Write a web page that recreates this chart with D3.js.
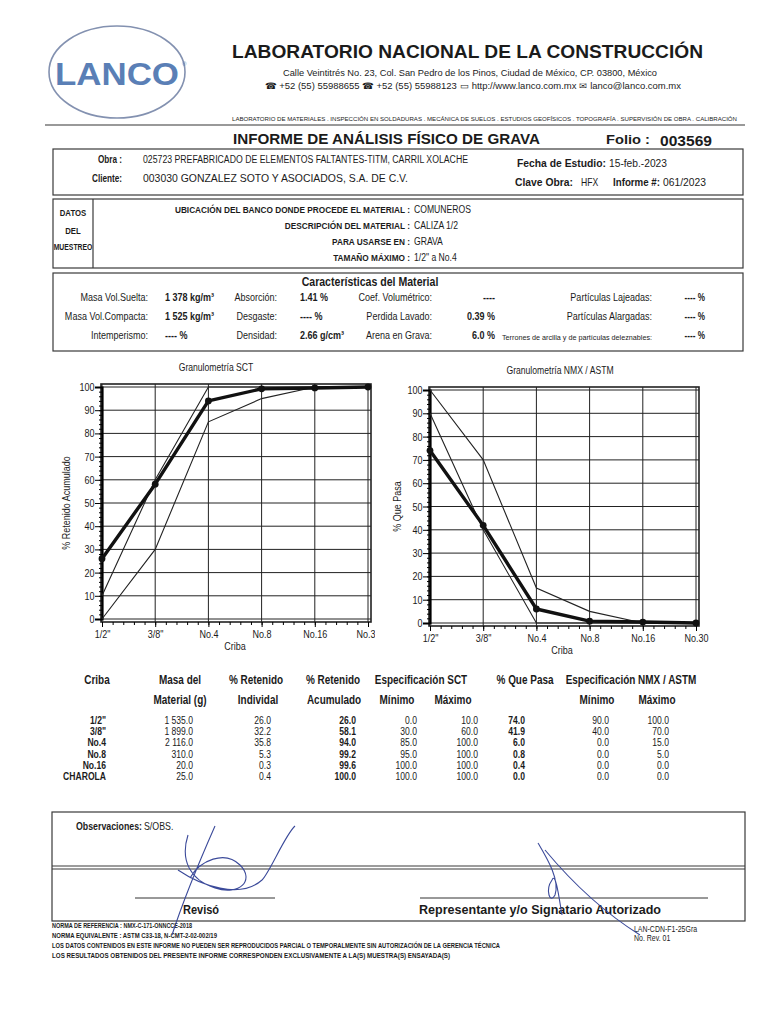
<!DOCTYPE html>
<html><head><meta charset="utf-8">
<script src="https://cdn.jsdelivr.net/npm/d3@7"></script>
<style>
body{margin:0;background:#fff;}
svg{display:block;}
text{font-family:"Liberation Sans",Arial,sans-serif;fill:#1b1b1b;}
</style></head><body>
<svg id="page" width="768" height="1024"></svg>
<script>
// ---------- DATA ----------
const cribaEje = ['1/2"', '3/8"', 'No.4', 'No.8', 'No.16', 'No.30'];
const cribaTabla = ['1/2"', '3/8"', 'No.4', 'No.8', 'No.16', 'CHAROLA'];
const masaMaterial = [1535.0, 1899.0, 2116.0, 310.0, 20.0, 25.0];
const retenidoIndividual = [26.0, 32.2, 35.8, 5.3, 0.3, 0.4];
const retenidoAcumulado = [26.0, 58.1, 94.0, 99.2, 99.6, 100.0];
const sctMinimo = [0.0, 30.0, 85.0, 95.0, 100.0, 100.0];
const sctMaximo = [10.0, 60.0, 100.0, 100.0, 100.0, 100.0];
const quePasa = [74.0, 41.9, 6.0, 0.8, 0.4, 0.0];
const nmxMinimo = [90.0, 40.0, 0.0, 0.0, 0.0, 0.0];
const nmxMaximo = [100.0, 70.0, 15.0, 5.0, 0.0, 0.0];
const yTicks = [0, 10, 20, 30, 40, 50, 60, 70, 80, 90, 100];

const svg = d3.select('#page');
const K = 0.82; // horizontal condensing for narrow type

function t(x, y, s, o = {}) {
  const el = svg.append('text').text(s)
    .attr('font-size', o.size || 10)
    .attr('font-weight', o.bold ? 'bold' : 'normal')
    .attr('text-anchor', o.anchor || 'start');
  if (o.fill) el.style('fill', o.fill);
  if (o.len) {
    el.attr('x', x).attr('y', y).attr('textLength', o.len).attr('lengthAdjust', 'spacingAndGlyphs');
  } else if (o.narrow) {
    el.attr('x', 0).attr('y', 0).attr('transform', `translate(${x},${y}) scale(${o.k || K},1)`);
  } else {
    el.attr('x', x).attr('y', y);
  }
  return el;
}
function hline(x1, x2, y, w = 1, c = '#333') {
  svg.append('line').attr('x1', x1).attr('x2', x2).attr('y1', y).attr('y2', y)
    .attr('stroke', c).attr('stroke-width', w);
}
function vline(x, y1, y2, w = 1, c = '#333') {
  svg.append('line').attr('x1', x).attr('x2', x).attr('y1', y1).attr('y2', y2)
    .attr('stroke', c).attr('stroke-width', w);
}
function box(x, y, w, h, sw = 1.2) {
  svg.append('rect').attr('x', x).attr('y', y).attr('width', w).attr('height', h)
    .attr('fill', 'none').attr('stroke', '#3a3a3a').attr('stroke-width', sw);
}

// ---------- HEADER ----------
svg.append('ellipse').attr('cx', 117).attr('cy', 72).attr('rx', 68).attr('ry', 46)
  .attr('fill', 'none').attr('stroke', '#8391b0').attr('stroke-width', 1.6);
t(117, 85, 'LANCO', {size: 32, bold: true, anchor: 'middle', fill: '#5a7fb6', len: 124});
t(182, 66, '®', {size: 6, fill: '#5a7fb6'});

t(232, 58, 'LABORATORIO NACIONAL DE LA CONSTRUCCIÓN', {size: 18, bold: true, len: 471});
t(283, 76, 'Calle Veintitrés No. 23, Col. San Pedro de los Pinos, Ciudad de México, CP. 03800, México', {size: 9, len: 374});
t(265, 89, '☎ +52 (55) 55988655    ☎ +52 (55) 55988123    ▭ http://www.lanco.com.mx    ✉ lanco@lanco.com.mx', {size: 9, len: 416});
t(232, 121, 'LABORATORIO DE MATERIALES . INSPECCIÓN EN SOLDADURAS . MECÁNICA DE SUELOS . ESTUDIOS GEOFÍSICOS . TOPOGRAFÍA . SUPERVISIÓN DE OBRA . CALIBRACIÓN', {size: 6, len: 505});
hline(45, 745, 125, 1.5, '#777');

t(233, 144, 'INFORME DE ANÁLISIS FÍSICO DE GRAVA', {size: 15.5, bold: true, len: 307});
t(606, 144, 'Folio :', {size: 12, bold: true, len: 44});
t(660, 146, '003569', {size: 15.5, bold: true, len: 52});

// Box 1
box(53, 149, 690, 46);
t(122, 163, 'Obra :', {size: 10, bold: true, narrow: true, anchor: 'end'});
t(143, 163, '025723  PREFABRICADO DE ELEMENTOS FALTANTES-TITM, CARRIL XOLACHE', {size: 10, len: 325});
t(122, 182, 'Cliente:', {size: 10, bold: true, narrow: true, anchor: 'end'});
t(143, 182, '003030  GONZALEZ SOTO Y ASOCIADOS, S.A. DE C.V.', {size: 10.5, len: 265});
t(517, 167, 'Fecha de Estudio:', {size: 10.5, bold: true, len: 89});
t(609, 167, '15-feb.-2023', {size: 10.5, len: 58});
t(515, 186, 'Clave Obra:', {size: 10.5, bold: true, len: 58});
t(581, 186, 'HFX', {size: 10.5, narrow: true});
t(613, 186, 'Informe #:', {size: 10.5, bold: true, len: 47});
t(663, 186, '061/2023', {size: 10.5, len: 43});

// Box 2
box(53, 199, 690, 69);
vline(93, 199, 268, 1.2, '#3a3a3a');
t(73, 216, 'DATOS', {size: 9.5, bold: true, narrow: true, anchor: 'middle'});
t(73, 234, 'DEL', {size: 9.5, bold: true, narrow: true, anchor: 'middle'});
t(73, 250, 'MUESTREO', {size: 9.5, bold: true, narrow: true, anchor: 'middle', k: 0.72});
const muestreoLbl = ['UBICACIÓN DEL BANCO DONDE PROCEDE EL MATERIAL :', 'DESCRIPCIÓN DEL MATERIAL :', 'PARA USARSE EN :', 'TAMAÑO MÁXIMO :'];
const muestreoVal = ['COMUNEROS', 'CALIZA 1/2', 'GRAVA', '1/2" a No.4'];
muestreoLbl.forEach((s, i) => {
  t(410, 213 + i * 16, s, {size: 9.5, bold: true, narrow: true, anchor: 'end', k: 0.87});
  t(414, 213 + i * 16, muestreoVal[i], {size: 10.5, narrow: true});
});

// Box 3
box(53, 273, 690, 78);
t(370, 286, 'Características del Material', {size: 12, bold: true, narrow: true, anchor: 'middle', k: 0.88});
const rowsY = [301, 320, 339];
const c1 = ['Masa Vol.Suelta:', 'Masa Vol.Compacta:', 'Intemperismo:'];
const v1 = ['1 378 kg/m³', '1 525 kg/m³', '---- %'];
const c2 = ['Absorción:', 'Desgaste:', 'Densidad:'];
const v2 = ['1.41 %', '---- %', '2.66 g/cm³'];
const c3 = ['Coef. Volumétrico:', 'Perdida Lavado:', 'Arena en Grava:'];
const v3 = ['----', '0.39 %', '6.0 %'];
const c4 = ['Partículas Lajeadas:', 'Partículas Alargadas:', ''];
const v4 = ['---- %', '---- %', '---- %'];
rowsY.forEach((y, i) => {
  t(148, y, c1[i], {size: 11, narrow: true, anchor: 'end'});
  t(165, y, v1[i], {size: 11, bold: true, narrow: true});
  t(277, y, c2[i], {size: 11, narrow: true, anchor: 'end'});
  t(300, y, v2[i], {size: 11, bold: true, narrow: true});
  t(432, y, c3[i], {size: 11, narrow: true, anchor: 'end'});
  t(495, y, v3[i], {size: 11, bold: true, narrow: true, anchor: 'end'});
  if (c4[i]) t(652, y, c4[i], {size: 11, narrow: true, anchor: 'end'});
  t(705, y, v4[i], {size: 10, bold: true, narrow: true, anchor: 'end'});
});
t(502, 340, 'Terrones de arcilla y de partículas deleznables:', {size: 6.5, len: 150});

// ---------- CHARTS ----------
function chart(o) {
  const g = svg.append('g');
  const x = d3.scalePoint().domain(cribaEje).range([o.x0, o.x1]).padding(0);
  const xm = d3.scaleLinear().domain([0, cribaEje.length - 1]).range([o.x0, o.x1]);
  const y = d3.scaleLinear().domain([0, 100]).range([o.yb, o.yt]);
  const fx0 = o.x0 - 1, fx1 = o.x1 + 3, fy0 = o.yt - 3, fy1 = o.yb + 3;
  // grid
  g.selectAll('.hg').data(yTicks).join('line')
    .attr('x1', fx0).attr('x2', fx1).attr('y1', d => y(d)).attr('y2', d => y(d))
    .attr('stroke', '#222').attr('stroke-width', 1);
  g.selectAll('.vg').data(cribaEje).join('line')
    .attr('x1', d => x(d)).attr('x2', d => x(d)).attr('y1', fy0).attr('y2', fy1)
    .attr('stroke', '#222').attr('stroke-width', 1);
  g.append('rect').attr('x', fx0).attr('y', fy0).attr('width', fx1 - fx0).attr('height', fy1 - fy0)
    .attr('fill', 'none').attr('stroke', '#222').attr('stroke-width', 1.6);
  // y axis
  const ya = g.append('g').attr('transform', `translate(${o.x0},0)`)
    .call(d3.axisLeft(y).tickValues(yTicks).tickSize(7).tickPadding(2));
  ya.select('.domain').attr('stroke-width', 2.2);
  ya.selectAll('text').attr('font-size', 11).attr('transform', `scale(${K},1)`).style('fill', '#1b1b1b');
  g.append('g').attr('transform', `translate(${o.x0},0)`)
    .call(d3.axisLeft(y).tickValues(d3.range(0, 101, 2)).tickSize(3).tickFormat(''))
    .select('.domain').remove();
  // x axis
  const xa = g.append('g').attr('transform', `translate(0,${fy1})`)
    .call(d3.axisBottom(x).tickSize(5).tickPadding(3).tickSizeOuter(0));
  xa.select('.domain').remove();
  xa.selectAll('text').attr('font-size', 11).attr('transform', `scale(${K},1)`).style('fill', '#1b1b1b');
  if (o.clipX) {
    const id = 'clip' + Math.round(o.x0);
    svg.append('clipPath').attr('id', id).append('rect').attr('x', 0).attr('y', 0).attr('width', o.clipX).attr('height', 1024);
    xa.attr('clip-path', `url(#${id})`);
  }
  g.append('g').attr('transform', `translate(0,${fy1})`)
    .call(d3.axisBottom(xm).tickValues(d3.range(0, 5.01, 0.2)).tickSize(3).tickFormat(''))
    .select('.domain').remove();
  // spec lines
  const line = d3.line().x((d, i) => x(cribaEje[i])).y(d => y(d));
  [o.min, o.max].forEach(s => g.append('path').datum(s).attr('d', line)
    .attr('fill', 'none').attr('stroke', '#222').attr('stroke-width', 1.1));
  g.append('path').datum(o.main).attr('d', line)
    .attr('fill', 'none').attr('stroke', '#111').attr('stroke-width', 3.4).attr('stroke-linejoin', 'round');
  g.selectAll('.pt').data(o.main).join('circle')
    .attr('cx', (d, i) => x(cribaEje[i])).attr('cy', d => y(d)).attr('r', 3.4).attr('fill', '#111');
  // labels
  t((o.x0 + o.x1) / 2 + o.titleDx, o.yt - 16, o.title, {size: 10.5, narrow: true, anchor: 'middle'});
  t((o.x0 + o.x1) / 2 + o.critDx, fy1 + 28, 'Criba', {size: 11, narrow: true, anchor: 'middle'});
  svg.append('text').text(o.ylabel).attr('font-size', 11).attr('text-anchor', 'middle')
    .attr('transform', `translate(${o.ylx},${(o.yt + o.yb) / 2}) rotate(-90) scale(${K},1)`);
}
chart({x0: 102, x1: 368, yt: 387, yb: 619, title: 'Granulometría SCT', titleDx: -19, critDx: 0,
  ylabel: '% Retenido Acumulado', ylx: 70, main: retenidoAcumulado, min: sctMinimo, max: sctMaximo, clipX: 375});
chart({x0: 430, x1: 696, yt: 390, yb: 623, title: 'Granulometría NMX / ASTM', titleDx: -3, critDx: -1,
  ylabel: '% Que Pasa', ylx: 401, main: quePasa, min: nmxMinimo, max: nmxMaximo});

// ---------- TABLE ----------
const hdr1 = [['Criba', 97], ['Masa del', 180], ['% Retenido', 256], ['% Retenido', 333], ['Especificación SCT', 421], ['% Que Pasa', 525], ['Especificación NMX / ASTM', 631]];
const hdr2 = [['Material (g)', 180], ['Individal', 258], ['Acumulado', 334], ['Mínimo', 397], ['Máximo', 453], ['Mínimo', 597], ['Máximo', 657]];
hdr1.forEach(([s, x]) => t(x, 684, s, {size: 12, bold: true, narrow: true, anchor: 'middle', k: 0.83}));
hdr2.forEach(([s, x]) => t(x, 704, s, {size: 12, bold: true, narrow: true, anchor: 'middle', k: 0.83}));
const f1 = d3.format(',.1f');
const fmtMasa = v => f1(v).replace(',', ' ');
const cols = [
  [cribaTabla, 106, true, s => s],
  [masaMaterial, 193, false, fmtMasa],
  [retenidoIndividual, 271, false, d3.format('.1f')],
  [retenidoAcumulado, 356, true, d3.format('.1f')],
  [sctMinimo, 417, false, d3.format('.1f')],
  [sctMaximo, 478, false, d3.format('.1f')],
  [quePasa, 525, true, d3.format('.1f')],
  [nmxMinimo, 609, false, d3.format('.1f')],
  [nmxMaximo, 669, false, d3.format('.1f')]
];
cols.forEach(([arr, xr, bold, f]) => {
  arr.forEach((v, i) => t(xr, 724 + i * 11.2, f(v), {size: 11, bold, narrow: true, anchor: 'end', k: 0.78}));
});

// ---------- FOOTER ----------
box(52, 812, 693, 109);
hline(52, 745, 866, 1.2, '#3a3a3a');
hline(52, 745, 869, 1.2, '#3a3a3a');
t(76, 830, 'Observaciones:', {size: 11, bold: true, narrow: true, k: 0.8});
t(144, 830, 'S/OBS.', {size: 11, narrow: true, k: 0.8});
hline(135, 275, 898, 1, '#333');
hline(420, 708, 898, 1, '#333');
t(201, 914, 'Revisó', {size: 13, bold: true, narrow: true, anchor: 'middle', k: 0.85});
t(540, 914, 'Representante y/o Signatario Autorizado', {size: 13, bold: true, anchor: 'middle', len: 242});
const notas = ['NORMA DE REFERENCIA : NMX-C-171-ONNCCE-2018', 'NORMA EQUIVALENTE : ASTM C33-18, N-CMT-2-02-002/19',
  'LOS DATOS CONTENIDOS EN ESTE INFORME NO PUEDEN SER REPRODUCIDOS PARCIAL O TEMPORALMENTE SIN AUTORIZACIÓN DE LA GERENCIA TÉCNICA',
  'LOS RESULTADOS OBTENIDOS DEL PRESENTE INFORME CORRESPONDEN EXCLUSIVAMENTE A LA(S) MUESTRA(S) ENSAYADA(S)'];
const notasLen = [140, 165, 448, 398];
notas.forEach((s, i) => t(52, 928 + i * 10, s, {size: 6.5, bold: true, len: notasLen[i]}));
t(634, 932, 'LAN-CDN-F1-25Gra', {size: 8.5, narrow: true});
t(634, 941, 'No. Rev. 01', {size: 8.5, narrow: true});

// signatures (ink decoration)
svg.append('path').attr('d', 'M215,826 C200,860 185,895 172,935 M188,835 C180,860 190,880 215,888 C240,896 255,880 240,865 C225,850 200,860 190,878 M178,870 C200,885 240,900 262,880 C270,872 285,835 295,826')
  .attr('fill', 'none').attr('stroke', '#3b4a9a').attr('stroke-width', 1.1);
svg.append('path').attr('d', 'M538,843 C548,860 560,880 555,895 C550,905 545,890 552,880 C556,870 560,905 562,915 M545,850 C570,880 600,910 640,935')
  .attr('fill', 'none').attr('stroke', '#3b4a9a').attr('stroke-width', 1.1);
</script>
</body></html>
